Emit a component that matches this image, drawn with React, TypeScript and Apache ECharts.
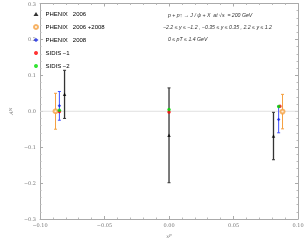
import React, { useEffect, useRef } from "react";
import * as echarts from "echarts";

const seriesNames = ["PHENIX   2006", "PHENIX   2006 +2008", "PHENIX   2008", "SIDIS −1", "SIDIS −2"];

const phenix2006X = [-0.081, 0.0, 0.081];
const phenix2006Y = [0.047, -0.067, -0.069];
const phenix2006Err = [0.067, 0.132, 0.066];

const phenix0608X = [-0.088, 0.088];
const phenix0608Y = [0.0, -0.001];
const phenix0608Err = [0.05, 0.048];

const phenix2008X = [-0.085, 0.085];
const phenix2008Y = [0.015, -0.023];
const phenix2008Err = [0.04, 0.037];

const sidis1X = [-0.085, 0.0, 0.086];
const sidis1Y = [-0.001, -0.002, 0.014];

const sidis2X = [-0.085, 0.0, 0.085];
const sidis2Y = [0.003, 0.005, 0.013];

const annotationLines = [
  "p + p↑ → J / ψ + X  at √s  = 200 GeV",
  "−2.2 ≤ y ≤ −1.2 , −0.35 ≤ y ≤ 0.35 , 2.2 ≤ y ≤ 1.2",
  "0 ≤ pT ≤ 1.4 GeV",
];

const colors = ["#000000", "#f5a040", "#1020e0", "#ff0000", "#00dd00"];

function errData(xs: number[], ys: number[], es: number[]) {
  return xs.map((x, i) => [x, ys[i] - es[i], ys[i] + es[i]]);
}

function errSeries(name: string, data: number[][], color: string, width: number) {
  return {
    type: "custom",
    name,
    data,
    z: 2,
    renderItem: (params: any, api: any) => {
      const x = api.value(0);
      const lo = api.coord([x, api.value(1)]);
      const hi = api.coord([x, api.value(2)]);
      const c = 1.5;
      return {
        type: "group",
        children: [
          { type: "line", shape: { x1: lo[0], y1: lo[1], x2: hi[0], y2: hi[1] }, style: { stroke: color, lineWidth: width } },
          { type: "line", shape: { x1: lo[0] - c, y1: lo[1], x2: lo[0] + c, y2: lo[1] }, style: { stroke: color, lineWidth: 1 } },
          { type: "line", shape: { x1: hi[0] - c, y1: hi[1], x2: hi[0] + c, y2: hi[1] }, style: { stroke: color, lineWidth: 1 } },
        ],
      };
    },
  };
}

export default function App() {
  const ref = useRef<HTMLDivElement>(null);
  useEffect(() => {
    if (!ref.current) return;
    const chart = echarts.init(ref.current, undefined, { renderer: "svg" });
    const labelFont = { fontFamily: "DejaVu Serif", fontSize: 5, color: "#777" };
    const axisBase = {
      type: "value",
      splitLine: { show: false },
      axisLine: { show: true, onZero: false, lineStyle: { color: "#aaa", width: 1 } },
      axisTick: { show: true, inside: true, length: 3, lineStyle: { color: "#aaa" } },
      minorTick: { show: true, splitNumber: 5, length: 1.5, lineStyle: { color: "#bbb" } },
    };
    const mk = (name: string, symbol: string, size: number, color: string, xs: number[], ys: number[]) => ({
      type: "scatter",
      name,
      symbol,
      symbolSize: size,
      itemStyle: symbol === "emptyCircle" ? { color, borderColor: color, borderWidth: 0.8 } : { color },
      z: 3,
      data: xs.map((x, i) => [x, ys[i]]),
    });
    chart.setOption({
      animation: false,
      grid: { left: 24, right: 9, top: 3.5, bottom: 18 },
      legend: {
        orient: "vertical",
        left: 28,
        top: 6,
        itemGap: 7,
        itemWidth: 5,
        itemHeight: 4,
        data: seriesNames,
        textStyle: { fontFamily: "Liberation Sans", fontSize: 6, color: "#000", padding: [0, 0, 0, 2] },
      },
      xAxis: [
        {
          ...axisBase,
          min: -0.1,
          max: 0.1,
          interval: 0.05,
          name: "{a|x}{s|F}",
          nameLocation: "middle",
          nameGap: 14,
          nameTextStyle: {
            rich: {
              a: { fontFamily: "DejaVu Serif", fontStyle: "italic", fontSize: 5, color: "#777" },
              s: { fontFamily: "DejaVu Serif", fontStyle: "italic", fontSize: 4, color: "#777" },
            },
          },
          axisLabel: { ...labelFont, margin: 3, formatter: (v: number) => (v < -1e-9 ? "−" : "") + Math.abs(v).toFixed(2) },
        },
        {
          ...axisBase,
          position: "top",
          min: -0.1,
          max: 0.1,
          interval: 0.05,
          axisLabel: { show: false },
        },
      ],
      yAxis: [
        {
          ...axisBase,
          min: -0.3,
          max: 0.3,
          interval: 0.1,
          name: "{a|A}{s|N}",
          nameLocation: "middle",
          nameGap: 18,
          nameRotate: 90,
          nameTextStyle: {
            rich: {
              a: { fontFamily: "DejaVu Serif", fontStyle: "italic", fontSize: 5, color: "#777" },
              s: { fontFamily: "DejaVu Serif", fontStyle: "italic", fontSize: 4, color: "#777" },
            },
          },
          axisLabel: { ...labelFont, margin: 4, formatter: (v: number) => (v < -1e-9 ? "−" : "") + Math.abs(v).toFixed(1) },
        },
        {
          ...axisBase,
          position: "right",
          min: -0.3,
          max: 0.3,
          interval: 0.1,
          axisLabel: { show: false },
        },
      ],
      graphic: annotationLines.map((t, i) => ({
        type: "text",
        left: i === 1 ? 163 : 168,
        top: 12 + i * 12,
        style: { text: t, fontFamily: "Liberation Sans", fontSize: 5.2, fill: "#333", fontStyle: "italic" },
      })),
      series: [
        {
          type: "line",
          name: "zero",
          data: [[-0.1, 0], [0.1, 0]],
          symbol: "none",
          silent: true,
          lineStyle: { color: "#e0e0e0", width: 1 },
          z: 1,
        },
        errSeries("err-2006", errData(phenix2006X, phenix2006Y, phenix2006Err), "#333", 1.3),
        errSeries("err-0608", errData(phenix0608X, phenix0608Y, phenix0608Err), colors[1], 1),
        errSeries("err-2008", errData(phenix2008X, phenix2008Y, phenix2008Err), "#4050ff", 1),
        mk(seriesNames[0], "triangle", 3.5, colors[0], phenix2006X, phenix2006Y),
        mk(seriesNames[1], "emptyCircle", 4, colors[1], phenix0608X, phenix0608Y),
        mk(seriesNames[2], "diamond", 3.5, colors[2], phenix2008X, phenix2008Y),
        mk(seriesNames[3], "circle", 3.5, colors[3], sidis1X, sidis1Y),
        mk(seriesNames[4], "circle", 3.5, colors[4], sidis2X, sidis2Y),
      ],
    });
    return () => chart.dispose();
  }, []);
  return <div ref={ref} style={{ position: "fixed", left: 0, top: 0, width: 307, height: 243 }} />;
}
